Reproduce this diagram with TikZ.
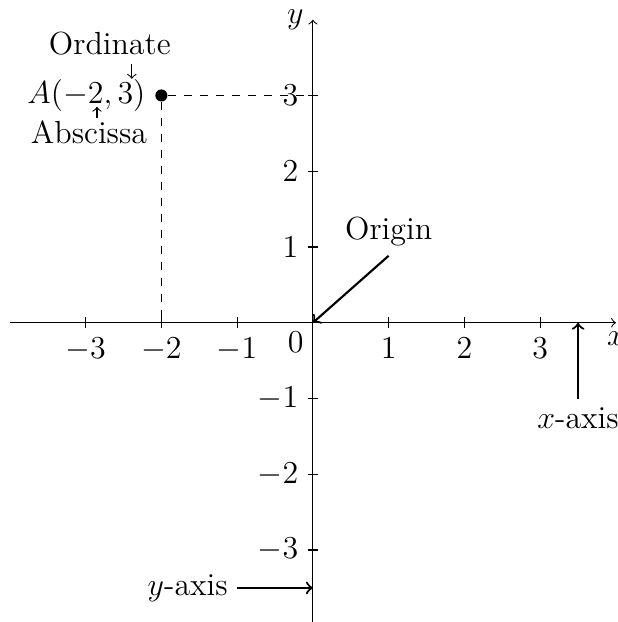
\documentclass[tikz,border=0pt]{standalone}
\usepackage{tikz}
\usetikzlibrary{positioning, arrows.meta}
\usepackage{amsmath}

\begin{document}
\begin{tikzpicture}[
    >=to,
    every node/.style={font=\large},
    axis/.style={->},
    note/.style={->, thick},
    guide/.style={dashed},
    tick/.style={draw},
    dot/.style={circle, fill=black, inner sep=0pt, minimum size=0.16cm}
]
    \useasboundingbox (-4.13,-3.95) rectangle (4.02,4.26);

    \coordinate (O) at (0,0);
    \coordinate (xmin) at (-4,0);
    \coordinate (xmax) at (4,0);
    \coordinate (ymin) at (0,-4);
    \coordinate (ymax) at (0,4);
    \draw[axis] (xmin) -- (xmax) node[below] (xname) {$x$};
    \draw[axis] (ymin) -- (ymax) node[left] (yname) {$y$};

    % ticks and numbers
    \foreach \i in {-3,-2,-1,1,2,3} {
        \draw[tick] (\i,2pt) -- (\i,-2pt) node[below] {$\i$};
        \draw[tick] (2pt,\i) -- (-2pt,\i) node[left] {$\i$};
    }
    \node[below left] (zero) at (O) {$0$};

    % the point and its guides
    \node[dot] (A) at (-2,3) {};
    \coordinate (Ay) at (0,3);
    \coordinate (Ax) at (-2,0);
    \draw[guide] (A) -- (Ay);
    \draw[guide] (A) -- (Ax);
    \node[left=0pt of A] (Alabel) {$A(-2,3)$};

    \node (ord) at (-2.68,3.69) {Ordinate};
    \coordinate (ordtip) at (-2.39,3.22);
    \draw[note, thin] (ord.south -| ordtip) -- (ordtip);
    \node[inner sep=1pt] (absc) at (-2.955,2.51) {Abscissa};
    \coordinate (abstip) at (-2.85,2.85);
    \draw[note, thin] (absc.north -| abstip) -- (abstip);

    % names of the parts
    \node (orig) at (1,1.2) {Origin};
    \draw[note] (orig.south) -- (O);
    \coordinate (xhit) at (3.5,0);
    \node[below] (xaxis) at (3.5,-1) {$x$-axis};
    \draw[note] (xaxis.north) -- (xhit);
    \coordinate (yhit) at (0,-3.5);
    \node[left] (yaxis) at (-1,-3.5) {$y$-axis};
    \draw[note] (yaxis.east) -- (yhit);
\end{tikzpicture}
\end{document}
